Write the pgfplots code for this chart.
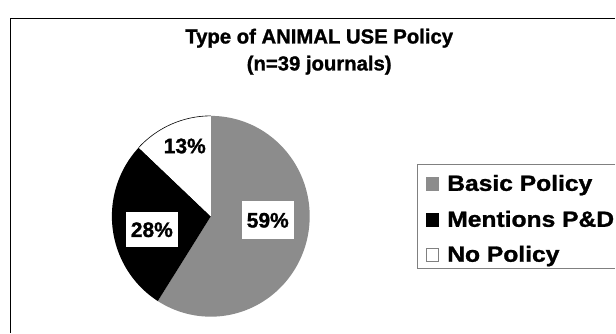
\documentclass[border=0pt]{standalone}
\usepackage{fontspec}
\setmainfont{Liberation Sans}[BoldFeatures={FakeBold=1.2}]
\usepackage{graphicx}
\usepackage{pgfplots}
\usepackage{pgfplotstable}
\pgfplotsset{compat=1.18}

\definecolor{basicgray}{RGB}{140,140,140}
\definecolor{legendframe}{RGB}{128,128,128}

% Share of journals (%) per policy type, n = 39
\pgfplotstableread{
share
59
28
13
}\policytable

\newcommand\titlefont{\fontsize{20.3pt}{24pt}\selectfont\bfseries}
\newcommand\labelfont{\fontsize{21pt}{24pt}\selectfont\bfseries}
\newcommand\legendfont{\fontsize{22pt}{25pt}\selectfont\bfseries}

\begin{document}
\begin{tikzpicture}
\pgfplotstablegetelem{0}{share}\of\policytable\let\shareBasic\pgfplotsretval
\pgfplotstablegetelem{1}{share}\of\policytable\let\shareMention\pgfplotsretval
\pgfplotstablegetelem{2}{share}\of\policytable\let\shareNone\pgfplotsretval
% wedges run clockwise from twelve o'clock
\pgfmathsetmacro\angA{90}
\pgfmathsetmacro\angB{\angA-3.6*\shareBasic}
\pgfmathsetmacro\angC{\angB-3.6*\shareMention}
\pgfmathsetmacro\angD{\angC-3.6*\shareNone}

\fill[white] (0,0) rectangle (616pt,333pt);
% chart area frame (runs on past the right and bottom edges)
\draw[line width=1.2pt] (10.3pt,0pt) -- (10.3pt,314.7pt) -- (616pt,314.7pt);
% title
\node[anchor=base, inner sep=0, font=\titlefont] at (319.5pt,289.5pt) {Type of ANIMAL USE Policy};
\node[anchor=base, inner sep=0, font=\titlefont] at (319.5pt,262.5pt) {(n=39 journals)};

\begin{axis}[
  at={(211pt,116.5pt)}, anchor=center,
  scale only axis, width=198pt, height=201pt,
  xmin=-1, xmax=1, ymin=-1, ymax=1,
  hide axis, clip=false,
]
\addplot[fill=basicgray, draw=none, domain=\angB:\angA, samples=120]
  ({cos(x)},{sin(x)}) -- (axis cs:0,0) -- cycle;
\addplot[fill=black, draw=none, domain=\angC:\angB, samples=80]
  ({cos(x)},{sin(x)}) -- (axis cs:0,0) -- cycle;
\addplot[fill=white, draw=none, domain=\angD:\angC, samples=50]
  ({cos(x)},{sin(x)}) -- (axis cs:0,0) -- cycle;
\addplot[draw=black, line width=0.6pt, domain=\angD:\angC, samples=50]
  ({cos(x)},{sin(x)});

\node[fill=white, inner sep=0, minimum width=52pt, minimum height=38pt, font=\labelfont]
  at (axis cs:0.576,-0.04) {\shareBasic\%};
\node[fill=white, inner sep=0, minimum width=52pt, minimum height=35pt, font=\labelfont]
  at (axis cs:-0.596,-0.134) {\shareMention\%};
\node[fill=white, inner sep=0, minimum width=46pt, minimum height=30pt, font=\labelfont]
  at (axis cs:-0.263,0.70) {\shareNone\%};
\end{axis}

% legend (box runs on past the right edge)
\draw[legendframe, line width=0.8pt] (616pt,168pt) -- (418.3pt,168pt) -- (418.3pt,64pt) -- (616pt,64pt);
\fill[basicgray] (426pt,142pt) rectangle (439pt,156pt);
\fill[black] (426pt,106pt) rectangle (439pt,120pt);
\draw[legendframe, fill=white, line width=0.5pt] (426.3pt,71.3pt) rectangle (438.7pt,84.7pt);
\node[anchor=base west, inner sep=0, font=\legendfont] at (447.5pt,142pt) {\scalebox{1.12}[1]{Basic Policy}};
\node[anchor=base west, inner sep=0, font=\legendfont] at (447.5pt,106pt) {\scalebox{1.12}[1]{Mentions P\&D}};
\node[anchor=base west, inner sep=0, font=\legendfont] at (447.5pt,71pt) {\scalebox{1.12}[1]{No Policy}};
\end{tikzpicture}
\end{document}
